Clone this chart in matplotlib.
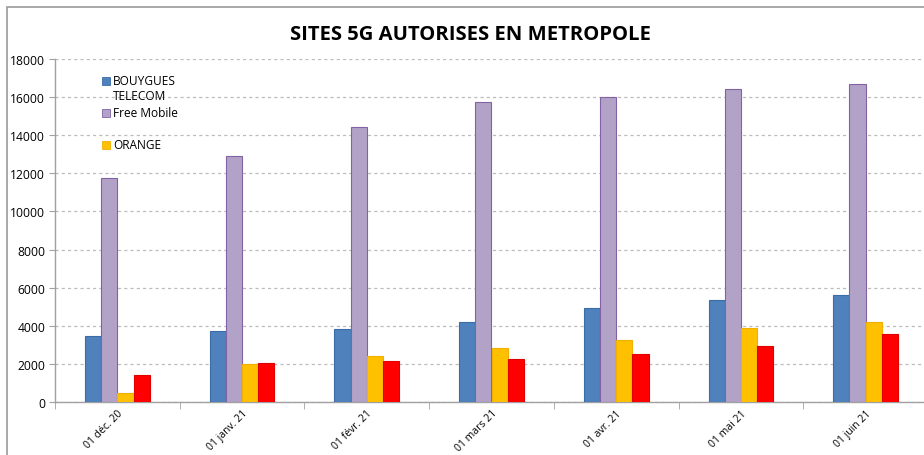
import matplotlib
matplotlib.use("Agg")
import matplotlib.pyplot as plt
import numpy as np
from matplotlib.patches import Rectangle

categories = ["01 déc. 20", "01 janv. 21", "01 févr. 21", "01 mars 21",
              "01 avr. 21", "01 mai 21", "01 juin 21"]
bouygues = [3450, 3720, 3830, 4180, 4920, 5340, 5600]
free = [11750, 12900, 14430, 15740, 16000, 16420, 16680]
orange = [470, 1980, 2430, 2830, 3250, 3880, 4200]
sfr = [1420, 2060, 2150, 2270, 2520, 2950, 3550]

series = [("BOUYGUES\nTELECOM", bouygues, "#4F81BD", "#3A6CA8"),
          ("Free Mobile", free, "#B3A2C7", "#7F63A5"),
          ("ORANGE", orange, "#FFC000", "#F0B000"),
          ("SFR", sfr, "#FF0000", "#E00000")]

plt.rcParams['font.family'] = ['Open Sans', 'DejaVu Sans']

W, H = 924, 456
fig = plt.figure(figsize=(W / 100, H / 100), dpi=100)

# chart border
fig.patches.append(Rectangle((7 / W, -0.1), 1.2, (H - 8) / H + 0.1,
                             transform=fig.transFigure, fill=False,
                             edgecolor="#9a9a9a", linewidth=1.2))

ax = fig.add_axes([55 / W, 53 / H, 873 / W, 343 / H])
x = np.arange(len(categories))
bw = 0.13
for i, (name, vals, col, ec) in enumerate(series):
    ax.bar(x + (i - 1.5) * bw, vals, width=bw, color=col, edgecolor=ec,
           linewidth=0.8, zorder=3)

ax.set_xlim(-0.5, len(categories) - 0.5)
ax.set_ylim(0, 18000)
ax.set_yticks(np.arange(0, 18001, 2000))
ax.set_yticklabels([str(v) for v in range(0, 18001, 2000)], fontsize=8.7)
ax.yaxis.grid(True, linestyle=(0, (2.5, 2.5)), color="#bcbcbc", linewidth=0.9, zorder=0)
ax.set_axisbelow(True)

ax.set_xticks(x)
ax.set_xticklabels(categories, rotation=45, ha="right", va="top",
                   rotation_mode="anchor", fontsize=7.5)
ax.tick_params(axis="x", length=0, pad=4)
ax.set_xticks(np.arange(-0.5, len(categories) + 0.5, 1), minor=True)
ax.tick_params(axis="x", which="minor", length=5, color="#a0a0a0")
ax.tick_params(axis="y", length=4, color="#a0a0a0", pad=3)

for s in ["top", "right"]:
    ax.spines[s].set_visible(False)
for s in ["left", "bottom"]:
    ax.spines[s].set_color("#a0a0a0")
    ax.spines[s].set_linewidth(1.0)

fig.text(470 / W, 1 - 35 / H, "SITES 5G AUTORISES EN METROPOLE",
         ha="center", va="center", fontsize=14.6, fontweight="bold")

# legend (first three series as in reference)
leg_rows = [(series[0], 82), (series[1], 114), (series[2], 146)]
for (name, vals, col, ec), yc in leg_rows:
    fig.patches.append(Rectangle((102 / W, 1 - (yc + 4) / H), 8 / W, 8 / H,
                                 transform=fig.transFigure, facecolor=col,
                                 edgecolor=ec, linewidth=0.6))
    fig.text(113 / W, 1 - (yc - 7) / H, name, ha="left", va="top",
             fontsize=8.6, linespacing=1.25)

fig.savefig("out.png", dpi=100)
